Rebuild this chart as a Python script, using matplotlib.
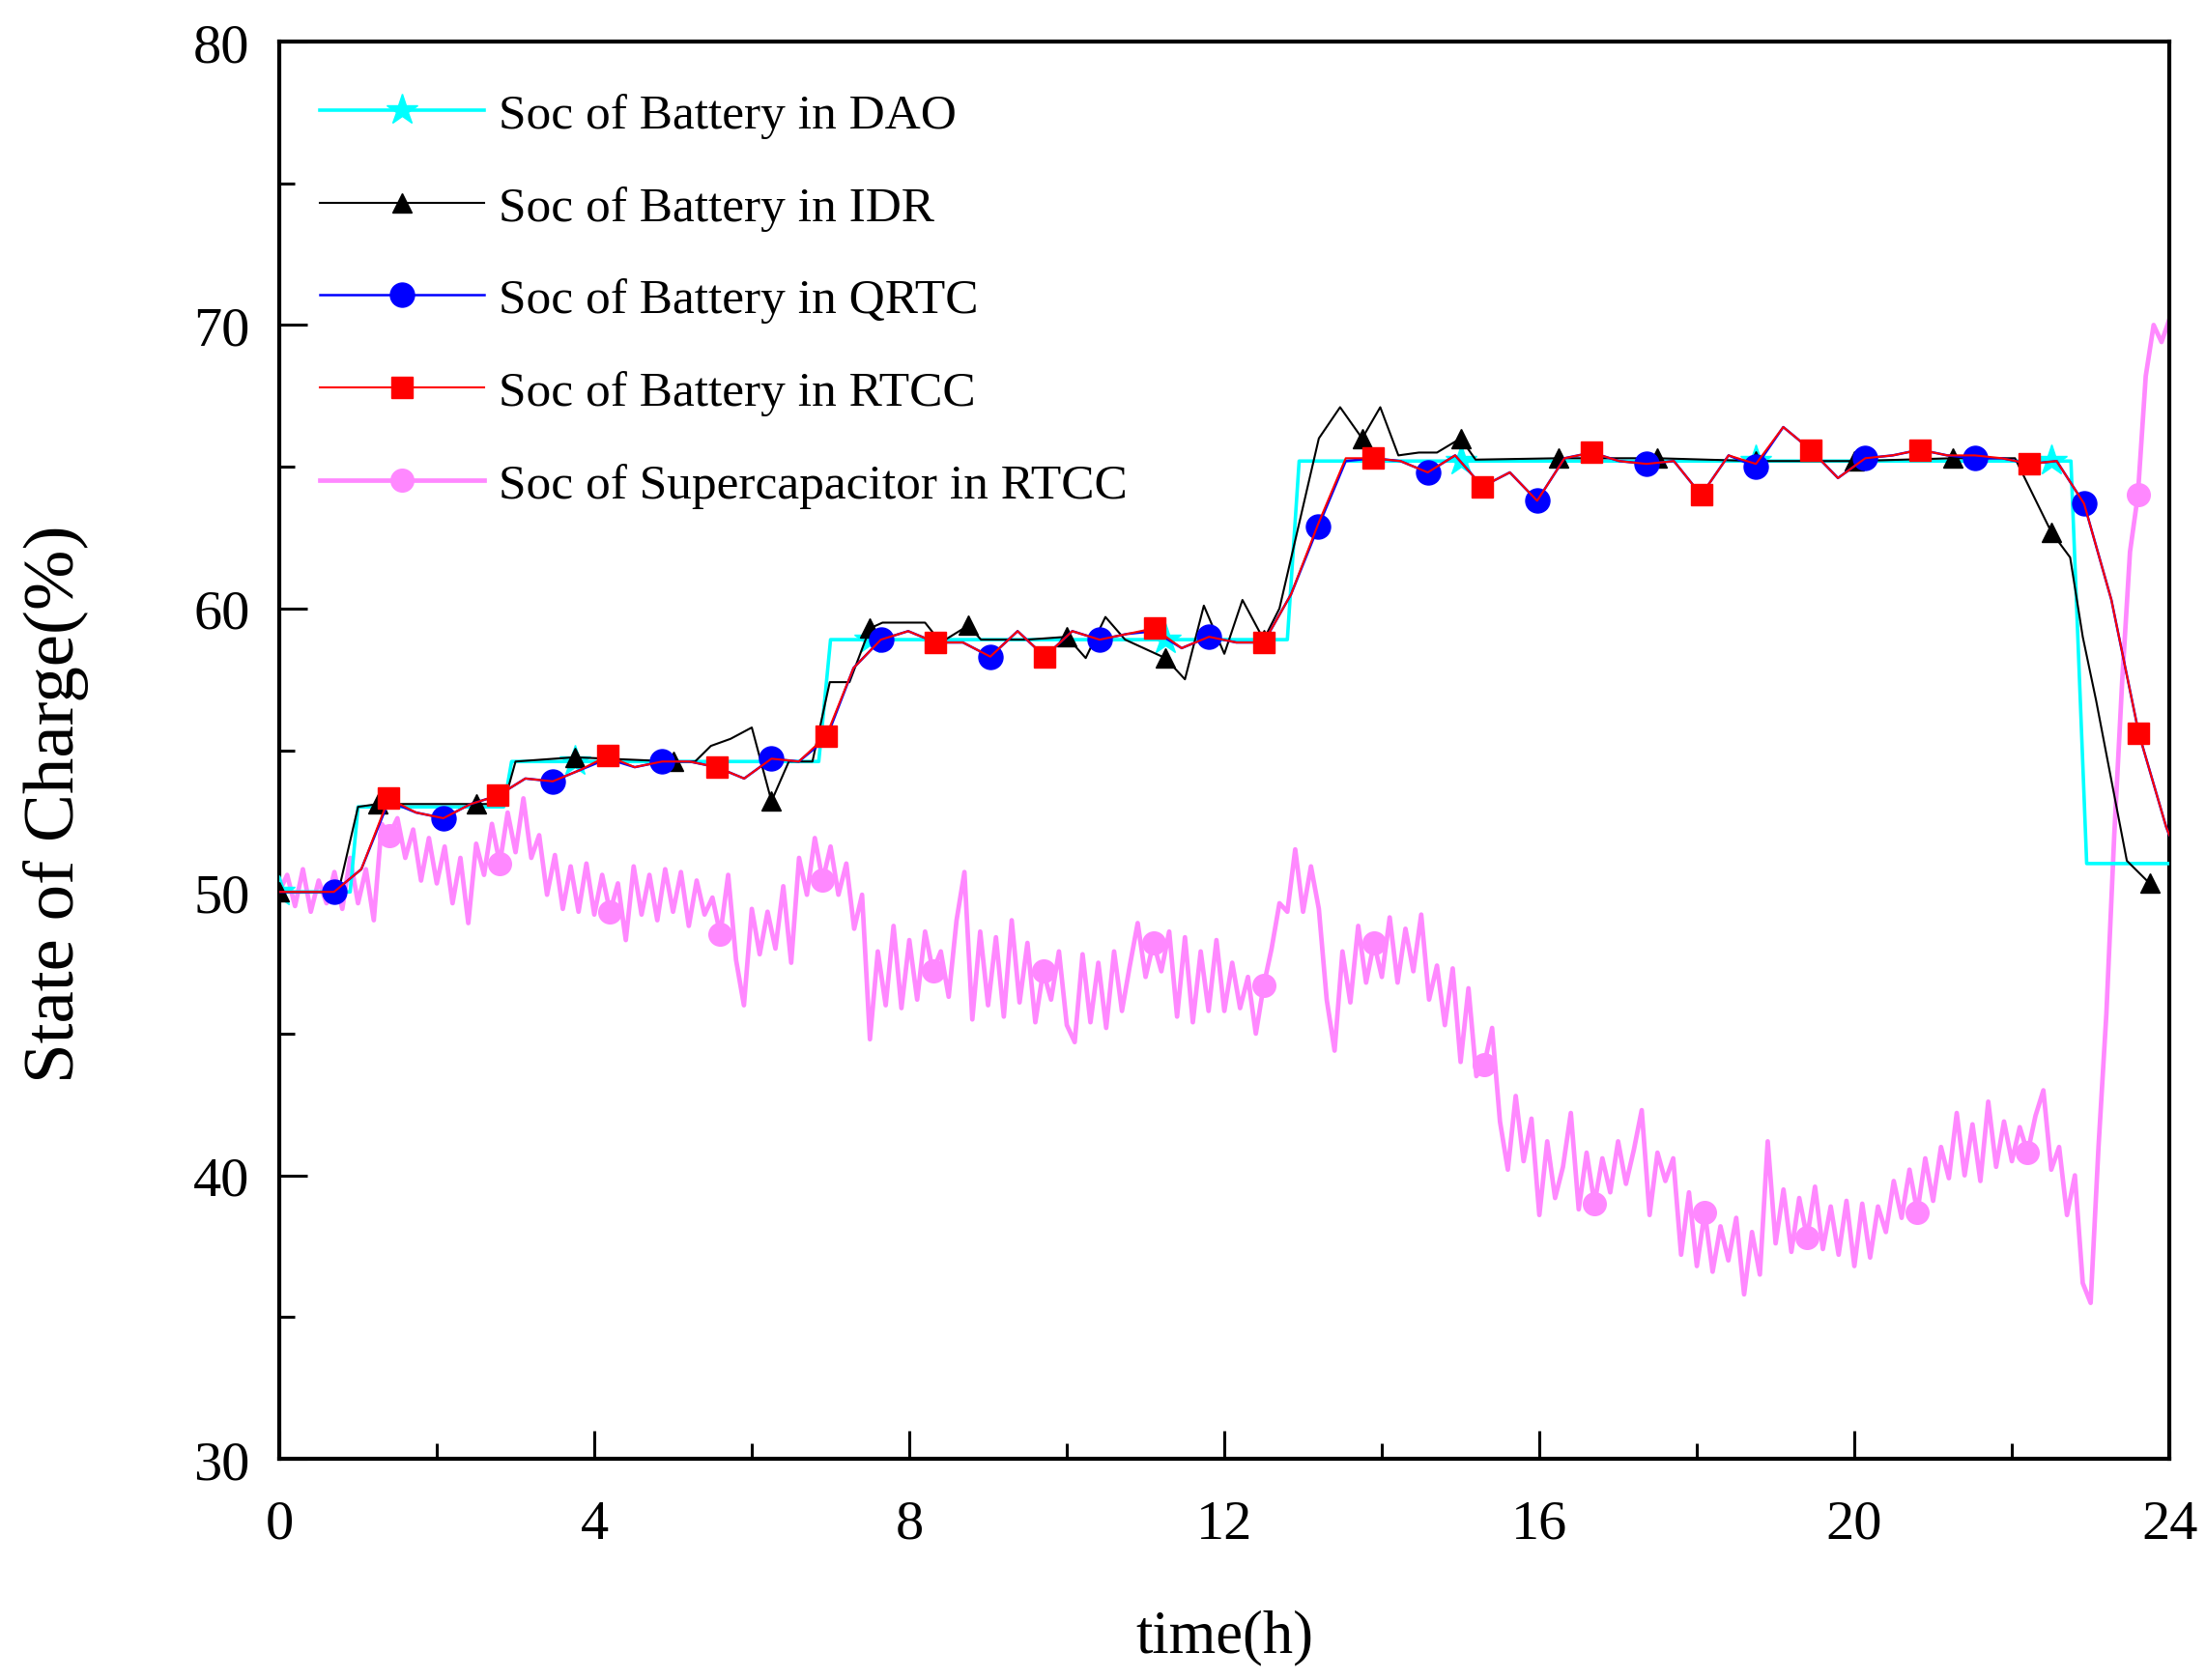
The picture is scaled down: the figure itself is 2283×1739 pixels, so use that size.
import numpy as np
import matplotlib
matplotlib.use('Agg')
import matplotlib.pyplot as plt

plt.rcParams['font.family'] = ['Liberation Serif', 'DejaVu Serif']
plt.rcParams['mathtext.fontset'] = 'stix'

# --- данные ---
# DAO (ступенчатый план на сутки)
dao_t = [0, 0.9, 1.0, 2.85, 2.95, 3.75, 6.85, 7.0, 7.5, 11.25, 12.8, 12.95,
         15.0, 18.75, 22.5, 22.75, 22.95, 24.0]
dao_soc = [50.0, 50.0, 53.0, 53.0, 54.6, 54.6, 54.6, 58.9, 58.9, 58.9, 58.9, 65.2,
           65.2, 65.2, 65.2, 65.2, 51.0, 51.0]

# IDR
idr_t = [0, 0.75, 1.0, 1.25, 2.5, 2.85, 3.0, 3.75, 5.0, 5.28, 5.48, 5.73, 6.0,
         6.25, 6.47, 6.77, 6.99, 7.24, 7.5, 7.66, 8.2, 8.4, 8.75, 8.91, 9.5,
         10.0, 10.24, 10.49, 10.74, 11.25, 11.5, 11.74, 12.0, 12.23, 12.5, 12.7,
         13.2, 13.47, 13.75, 13.98, 14.21, 14.47, 14.7, 15.0, 15.19, 16.25, 17.5,
         18.75, 20.0, 21.25, 22.04, 22.5, 22.74, 22.9, 23.07, 23.28, 23.46, 23.75]
idr_soc = [50.0, 50.0, 53.0, 53.1, 53.1, 53.1, 54.6, 54.75, 54.6, 54.6, 55.15, 55.4,
           55.8, 53.2, 54.6, 54.6, 57.4, 57.4, 59.3, 59.5, 59.5, 58.8, 59.4, 58.9,
           58.9, 59.0, 58.25, 59.7, 58.9, 58.25, 57.5, 60.1, 58.4, 60.3, 58.9, 60.0,
           66.0, 67.1, 66.0, 67.1, 65.4, 65.5, 65.5, 66.0, 65.25, 65.3, 65.3, 65.2,
           65.2, 65.3, 65.3, 62.7, 61.8, 59.0, 56.75, 53.7, 51.1, 50.3]

# QRTC и RTCC (шаг 25/72 ч)
rt_t = np.append(np.arange(70) * 25 / 72, 24.0)
qrtc_soc = [50.0, 50.0, 50.0, 50.8, 53.2, 52.8, 52.6, 53.1, 53.4, 54.0,
            53.9, 54.3, 54.7, 54.4, 54.6, 54.6, 54.4, 54.0, 54.7, 54.6,
            55.4, 57.9, 58.9, 59.2, 58.8, 58.8, 58.3, 59.2, 58.3, 59.2,
            58.9, 59.1, 59.2, 58.6, 59.0, 58.8, 58.8, 60.5, 62.9, 65.2,
            65.3, 65.2, 64.8, 65.4, 64.3, 64.8, 63.8, 65.3, 65.5, 65.2,
            65.1, 65.2, 64.0, 65.4, 65.0, 66.4, 65.6, 64.6, 65.3, 65.4,
            65.6, 65.4, 65.3, 65.3, 65.1, 65.2, 63.7, 60.3, 55.6, 52.3, 52.0]
rtcc_soc = [50.0, 50.0, 50.0, 50.8, 53.3, 52.8, 52.6, 53.1, 53.4, 54.0,
            53.9, 54.3, 54.8, 54.4, 54.6, 54.6, 54.4, 54.0, 54.7, 54.6,
            55.5, 57.9, 58.9, 59.2, 58.8, 58.8, 58.3, 59.2, 58.3, 59.2,
            58.9, 59.1, 59.3, 58.6, 59.0, 58.8, 58.8, 60.5, 63.0, 65.3,
            65.3, 65.2, 64.8, 65.4, 64.3, 64.8, 63.8, 65.3, 65.5, 65.2,
            65.1, 65.2, 64.0, 65.4, 65.1, 66.4, 65.6, 64.6, 65.3, 65.4,
            65.6, 65.4, 65.4, 65.3, 65.1, 65.2, 63.7, 60.3, 55.6, 52.3, 52.0]

# суперконденсатор (шаг 0.1 ч)
sc_t = np.arange(241) * 0.1
sc_soc = [
    50.0, 50.6, 49.5, 50.8, 49.3, 50.4, 49.6, 50.7, 49.4, 51.2,
    49.6, 50.8, 49.0, 52.4, 52.0, 52.6, 51.2, 52.2, 50.4, 51.9,
    50.3, 51.6, 49.6, 51.2, 48.9, 51.7, 50.6, 52.4, 51.0, 52.8,
    51.4, 53.3, 51.2, 52.0, 49.9, 51.3, 49.4, 50.9, 49.3, 51.0,
    49.2, 50.6, 49.3, 50.3, 48.3, 50.9, 49.2, 50.6, 49.0, 50.8,
    49.3, 50.7, 48.8, 50.4, 49.2, 49.8, 48.5, 50.6, 47.6, 46.0,
    49.4, 47.8, 49.3, 48.0, 50.2, 47.5, 51.2, 49.9, 51.9, 50.4,
    51.6, 49.9, 51.0, 48.7, 49.9, 44.8, 47.9, 46.0, 48.8, 45.9,
    48.3, 46.2, 48.6, 47.2, 47.9, 46.3, 49.0, 50.7, 45.5, 48.6,
    46.0, 48.4, 45.6, 49.0, 46.1, 48.2, 45.4, 47.2, 46.2, 47.9,
    45.3, 44.7, 47.8, 45.4, 47.5, 45.2, 47.9, 45.8, 47.4, 48.9,
    47.0, 48.2, 47.2, 48.6, 45.6, 48.4, 45.4, 47.9, 45.8, 48.3,
    45.8, 47.5, 45.9, 47.0, 45.0, 46.7, 48.0, 49.6, 49.3, 51.5,
    49.3, 50.9, 49.4, 46.2, 44.4, 47.9, 46.1, 48.8, 46.8, 48.2,
    47.0, 49.1, 46.8, 48.7, 47.2, 49.2, 46.2, 47.4, 45.3, 47.3,
    44.0, 46.6, 43.5, 43.9, 45.2, 41.9, 40.2, 42.8, 40.5, 42.0,
    38.6, 41.2, 39.2, 40.3, 42.2, 38.8, 40.8, 39.0, 40.6, 39.4,
    41.2, 39.7, 40.9, 42.3, 38.6, 40.8, 39.8, 40.6, 37.2, 39.4,
    36.8, 38.7, 36.6, 38.2, 37.0, 38.5, 35.8, 38.0, 36.5, 41.2,
    37.6, 39.5, 37.3, 39.2, 37.8, 39.6, 37.4, 38.9, 37.2, 39.1,
    36.8, 39.0, 37.1, 38.9, 38.0, 39.8, 38.5, 40.2, 38.7, 40.6,
    39.1, 41.0, 39.9, 42.2, 40.0, 41.8, 39.8, 42.6, 40.3, 41.9,
    40.5, 41.7, 40.8, 42.1, 43.0, 40.2, 41.0, 38.6, 40.0, 36.2,
    35.5, 41.0, 45.7, 52.0, 57.4, 62.0, 64.0, 68.2, 70.0, 69.4, 70.2]

labels = ['Soc of Battery in DAO', 'Soc of Battery in IDR', 'Soc of Battery in QRTC',
          'Soc of Battery in RTCC', 'Soc of Supercapacitor in RTCC']

# --- рисунок ---
fig = plt.figure(figsize=(22.83, 17.40), dpi=100)
ax = fig.add_axes([0.1266, 0.1316, 0.8568, 0.8431])

dao_t = np.array(dao_t)
idr_t = np.array(idr_t)
sc_marks = [int(round(k * 125 / 9)) for k in range(1, 18)]

h_sc, = ax.plot(sc_t, sc_soc, color='#FF88FF', lw=3.4, marker='o', ms=17,
                markevery=sc_marks, zorder=2)
h_dao, = ax.plot(dao_t, dao_soc, color='#00FFFF', lw=2.6, marker='*', ms=24,
                 markevery=list(np.isclose(dao_t % 3.75, 0)), zorder=3)
h_idr, = ax.plot(idr_t, idr_soc, color='black', lw=1.5, marker='^', ms=15,
                 markevery=list(np.isclose(idr_t % 1.25, 0)), zorder=4)
h_q, = ax.plot(rt_t, qrtc_soc, color='#0000FF', lw=1.8, marker='o', ms=18,
               markevery=list(range(2, 67, 4)), zorder=5)
h_r, = ax.plot(rt_t, rtcc_soc, color='#FF0000', lw=1.5, marker='s', ms=16,
               markevery=list(range(4, 69, 4)), zorder=6)

ax.set_xlim(0, 24)
ax.set_ylim(30, 80)
ax.set_xticks(np.arange(0, 25, 4))
ax.set_xticks(np.arange(0, 25, 2), minor=True)
ax.set_yticks(np.arange(30, 81, 10))
ax.set_yticks(np.arange(30, 81, 5), minor=True)
ax.tick_params(which='both', direction='in', top=False, right=False, width=2.2)
ax.tick_params(which='major', length=21, labelsize=42)
ax.tick_params(which='minor', length=11.5)
ax.tick_params(axis='x', which='major', pad=30)
ax.tick_params(axis='y', which='major', pad=22)
for s in ax.spines.values():
    s.set_linewidth(3)

ax.set_xlabel('time(h)', fontsize=45)
ax.xaxis.set_label_coords(0.5, -0.126)
ax.xaxis.label.set_va('center')
ax.set_ylabel('State of Charge(%)', fontsize=54)
ax.yaxis.set_label_coords(-0.118, 0.463)
ax.yaxis.label.set_va('center')

leg = ax.legend([h_dao, h_idr, h_q, h_r, h_sc], labels, loc='upper left',
                bbox_to_anchor=(0.011, 0.978), frameon=False, fontsize=37,
                numpoints=1, handlelength=3.3, handletextpad=0.3,
                labelspacing=0.95, borderaxespad=0)

fig.savefig('out.png', dpi=100)
